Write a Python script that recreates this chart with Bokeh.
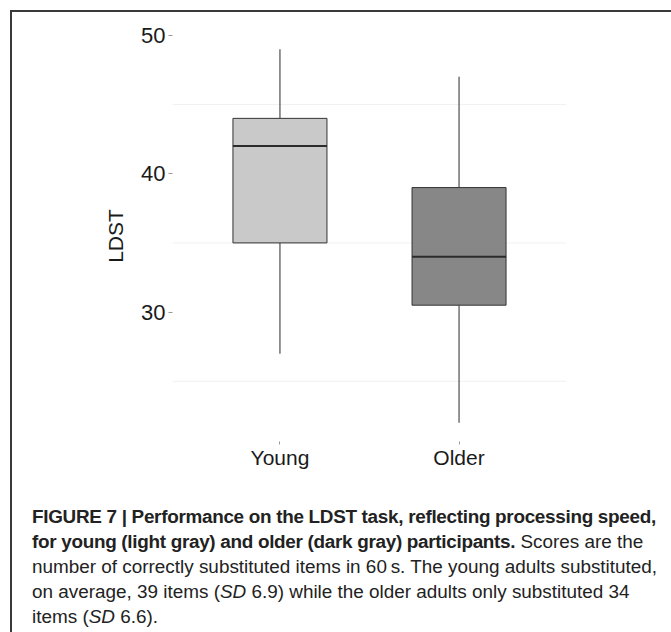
from bokeh.plotting import figure
from bokeh.models import FixedTicker, Div
from bokeh.layouts import column
from bokeh.embed import file_html
from bokeh.resources import INLINE

# ---- data ----
groups = ["Young", "Older"]
positions = [1, 2]
lower_whisker = [27, 22]
q1 = [35, 30.5]
median = [42, 34]
q3 = [44, 39]
upper_whisker = [49, 47]
fill_colors = ["#c9c9c9", "#878787"]
y_ticks = [30, 40, 50]
minor_grid = [25, 35, 45]
box_width = 0.525

FONT = "Liberation Sans"

p = figure(width=657, height=480, x_range=(0.4, 2.6), y_range=(20.65, 50.35),
           output_backend="svg", toolbar_location=None,
           min_border_left=160, min_border_right=103, min_border_top=18, min_border_bottom=51)
p.outline_line_color = None
p.xgrid.visible = False
p.ygrid.visible = False
p.background_fill_color = "white"
p.border_fill_color = "white"

# faint minor grid lines across the panel
p.segment(x0=[0.4] * len(minor_grid), x1=[2.6] * len(minor_grid), y0=minor_grid, y1=minor_grid,
          line_color="#f1f1f1", line_width=1)

# whiskers
p.segment(x0=positions, x1=positions, y0=q3, y1=upper_whisker, line_color="#4d4d4d", line_width=1.2)
p.segment(x0=positions, x1=positions, y0=lower_whisker, y1=q1, line_color="#4d4d4d", line_width=1.2)

# boxes
p.vbar(x=positions, width=box_width, bottom=q1, top=q3, fill_color=fill_colors,
       line_color="#333333", line_width=1)

# medians
p.segment(x0=[x - box_width / 2 for x in positions], x1=[x + box_width / 2 for x in positions],
          y0=median, y1=median, line_color="#2b2b2b", line_width=2)

# axes
p.yaxis.ticker = FixedTicker(ticks=y_ticks)
p.yaxis.minor_tick_line_color = None
p.yaxis.axis_line_color = None
p.yaxis.major_tick_line_color = "#999999"
p.yaxis.major_tick_out = 4
p.yaxis.major_tick_in = 0
p.yaxis.major_label_standoff = 3
p.yaxis.major_label_text_font = FONT
p.yaxis.major_label_text_font_size = "22px"
p.yaxis.major_label_text_color = "#1a1a1a"
p.yaxis.axis_label = "LDST"
p.yaxis.axis_label_text_font = FONT
p.yaxis.axis_label_text_font_style = "normal"
p.yaxis.axis_label_text_font_size = "21px"
p.yaxis.axis_label_text_color = "#1a1a1a"
p.yaxis.axis_label_standoff = 11

p.xaxis.ticker = FixedTicker(ticks=positions)
p.xaxis.major_label_overrides = {pos: g for pos, g in zip(positions, groups)}
p.xaxis.minor_tick_line_color = None
p.xaxis.axis_line_color = None
p.xaxis.major_tick_line_color = "#999999"
p.xaxis.major_tick_out = 3
p.xaxis.major_tick_in = 0
p.xaxis.major_label_standoff = 1
p.xaxis.major_label_text_font = FONT
p.xaxis.major_label_text_font_size = "21px"
p.xaxis.major_label_text_color = "#1a1a1a"

caption_html = (
    "<b style='letter-spacing:-0.3px'>FIGURE 7 | Performance on the LDST task, reflecting processing speed,<br>"
    "for young (light gray) and older (dark gray) participants.</b> Scores are the<br>"
    "number of correctly substituted items in 60&#8201;s. The young adults substituted,<br>"
    "on average, 39 items (<i>SD</i> 6.9) while the older adults only substituted 34<br>"
    "items (<i>SD</i> 6.6)."
)
caption = Div(text=caption_html, width=657, height=140,
              styles={"font-family": FONT, "font-size": "18.9px", "line-height": "25px",
                      "color": "#222222", "padding-left": "15px", "padding-top": "7px",
                      "box-sizing": "border-box", "white-space": "nowrap"})

layout = column(p, caption, spacing=0,
                styles={"border": "2px solid #3a3a3a", "border-bottom": "none",
                        "margin-left": "10px", "margin-top": "10px"})

open("out.html", "w").write(file_html(layout, INLINE))
